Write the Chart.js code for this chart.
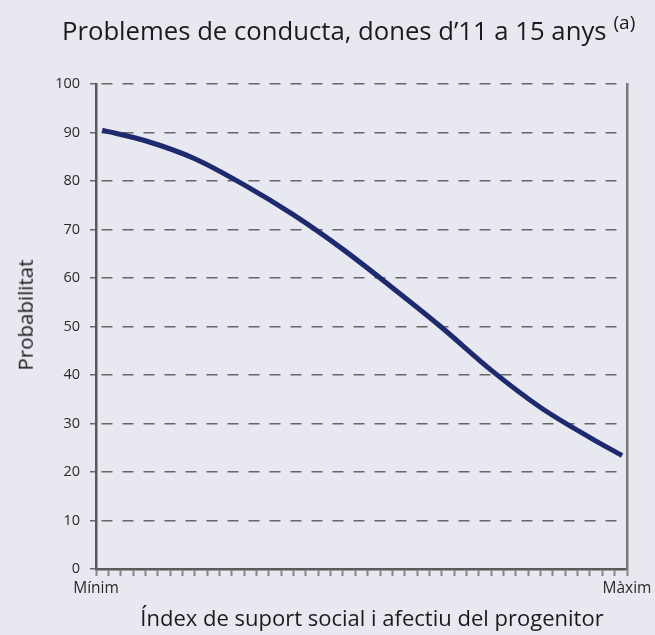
<!DOCTYPE html>
<html>
<head>
<meta charset="utf-8">
<script src="https://cdn.jsdelivr.net/npm/chart.js@4"></script>
<style>
    html, body { margin: 0; padding: 0; background: #e8e8f1; }
    #wrap { position: relative; width: 655px; height: 635px; }
    #title {
        position: absolute; left: 62px; top: 9px; white-space: nowrap;
        font-family: "Open Sans", sans-serif; font-size: 25.7px; color: #1b1b1b;
    }
    #title sup { font-size: 19px; vertical-align: 11px; margin-left: 7px; }
    #xtitle {
        position: absolute; left: 72px; top: 602px; width: 600px; text-align: center;
        font-family: "Open Sans", sans-serif; font-size: 22px; color: #1b1b1b; white-space: nowrap;
    }
    #ytitle {
        position: absolute; left: 25px; top: 315px; line-height: 1; white-space: nowrap;
        transform: translate(-50%, -50%) rotate(-90deg);
        font-family: "Open Sans", sans-serif; font-size: 20.5px; color: #1b1b1b;
    }
    canvas { position: absolute; left: 0; top: 0; }
</style>
</head>
<body>
<div id="wrap">
    <canvas id="lineChart" width="655" height="635"></canvas>
    <div id="title">Problemes de conducta, dones d’11 a 15 anys<sup>(a)</sup></div>
    <div id="ytitle"></div>
    <div id="xtitle"></div>
</div>
<script>
// position along the support index (0 = Mínim, 43 = Màxim)
const supportIndex = [0.5, 4, 8, 12, 16, 20, 24, 28, 32, 36, 40, 42.6];
// probability of conduct problems (%)
const probability = [90.5, 88.3, 84.6, 79.2, 73.0, 65.9, 58.0, 49.8, 41.0, 33.3, 27.1, 23.4];
const xMin = 0, xMax = 43;
const minLabel = 'Mínim', maxLabel = 'Màxim';
const yTitle = 'Probabilitat';
const xTitle = 'Índex de suport social i afectiu del progenitor';

document.addEventListener('DOMContentLoaded', function() {
    document.getElementById('ytitle').textContent = yTitle;
    document.getElementById('xtitle').textContent = xTitle;

    let points = supportIndex.map((x, i) => ({x: x, y: probability[i]}));

    var ctx = document.getElementById('lineChart').getContext('2d');
    var lineChart = new Chart(ctx, {
        type: 'line',
        data: {
            datasets: [{
                label: 'Probabilitat',
                data: points,
                borderColor: '#1f2a6e',
                borderWidth: 5,
                borderCapStyle: 'butt',
                pointRadius: 0,
                cubicInterpolationMode: 'monotone',
                fill: false
            }]
        },
        options: {
            responsive: false,
            animation: false,
            layout: { padding: { top: 84, right: 28, left: 0, bottom: 0 } },
            plugins: { legend: { display: false }, tooltip: { enabled: false } },
            scales: {
                x: {
                    type: 'linear',
                    min: xMin,
                    max: xMax,
                    afterFit: function(s) { s.height = 66; },
                    ticks: {
                        stepSize: 1,
                        autoSkip: false,
                        maxTicksLimit: 100,
                        maxRotation: 0,
                        padding: 3,
                        color: '#2a2a2a',
                        font: { family: 'Open Sans', size: 15.5 },
                        callback: function(v) {
                            if (v === xMin) return minLabel;
                            if (v === xMax) return maxLabel;
                            return '';
                        }
                    },
                    grid: {
                        drawOnChartArea: false,
                        drawTicks: true,
                        tickLength: 7,
                        tickColor: '#858585',
                        tickWidth: 2
                    },
                    border: { color: '#5a5a5a', width: 2.5 }
                },
                y: {
                    min: 0,
                    max: 100,
                    afterFit: function(s) { s.width = 96; },
                    ticks: {
                        stepSize: 10,
                        padding: 10,
                        color: '#2a2a2a',
                        font: { family: 'Open Sans', size: 14.5 }
                    },
                    grid: {
                        color: '#666666',
                        lineWidth: 1.5,
                        drawTicks: true,
                        tickLength: 6,
                        tickColor: '#666666',
                        tickWidth: 1.5,
                        tickBorderDash: []
                    },
                    border: { color: '#5a5a5a', width: 2.5, dash: [11, 10], dashOffset: -4 }
                },
                y2: {
                    position: 'right',
                    min: 0,
                    max: 100,
                    afterFit: function(s) { s.width = 0; },
                    ticks: { display: false },
                    grid: { display: false, drawTicks: false },
                    border: { color: '#7a7a7a', width: 2.5 }
                }
            }
        }
    });
});
</script>
</body>
</html>
